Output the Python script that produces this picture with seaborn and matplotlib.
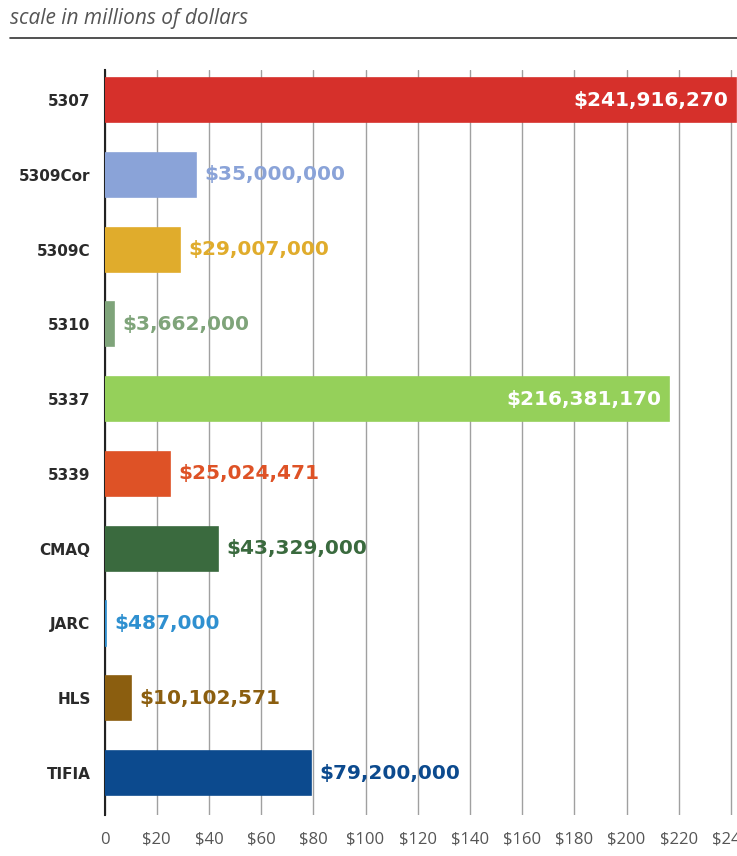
import pandas as pd
import seaborn as sns
import matplotlib.pyplot as plt
from matplotlib.lines import Line2D

# program names and funding amounts (dollars)
programs = ['5307', '5309Cor', '5309C', '5310', '5337', '5339', 'CMAQ', 'JARC', 'HLS', 'TIFIA']
amounts = [241916270, 35000000, 29007000, 3662000, 216381170, 25024471, 43329000, 487000, 10102571, 79200000]
colors = ['#d6302b', '#8aa3d8', '#e0ac2c', '#7fa47a', '#95d05a',
          '#de5226', '#3a6a3e', '#2f90d0', '#8b5e0f', '#0c4a8e']
inside_label = ['5307', '5337']  # labels drawn in white inside the bar
tick_values = list(range(0, 260, 20))
tick_labels = ['0'] + [f'${v}' for v in tick_values[1:]]

df = pd.DataFrame({'program': programs, 'millions': [a / 1e6 for a in amounts]})

sns.set_style('white')
plt.rcParams['font.family'] = ['Open Sans', 'DejaVu Sans']

fig = plt.figure(figsize=(7.37, 8.56), dpi=100)
ax = fig.add_axes([0.1418, 0.048, 0.8582, 0.870])

sns.barplot(data=df, y='program', x='millions', hue='program', palette=colors,
            orient='h', legend=False, width=0.59, saturation=1, ax=ax, zorder=3)

# the tiny JARC bar gets a thin outline so it stays visible next to the axis
for patch, c in zip(ax.patches, colors):
    patch.set_edgecolor(c)
    patch.set_linewidth(1.2)

ax.set_xlim(0, 242.3)
ax.set_ylim(9.56, -0.4)
ax.set_xticks(tick_values)
ax.set_xticklabels(tick_labels, fontsize=12, color='#555555')
ax.grid(axis='x', color='#a0a0a0', linewidth=1.0, zorder=0)
ax.grid(axis='y', visible=False)
ax.tick_params(axis='x', length=0, pad=12)
ax.tick_params(axis='y', length=0, pad=10)
for lbl in ax.get_yticklabels():
    lbl.set_fontfamily('DejaVu Sans')
    lbl.set_fontweight('bold')
    lbl.set_fontsize(11)
    lbl.set_color('#2a2a2a')
ax.set_xlabel('')
ax.set_ylabel('')
for s in ['top', 'right', 'bottom']:
    ax.spines[s].set_visible(False)
ax.spines['left'].set_color('#222222')
ax.spines['left'].set_linewidth(1.5)
ax.spines['left'].set_zorder(2)

for i, (p, a, c) in enumerate(zip(programs, amounts, colors)):
    v = a / 1e6
    txt = f'${a:,}'
    if p in inside_label:
        ax.text(v - 3, i, txt, color='white', fontsize=14.5, fontweight='bold',
                family='DejaVu Sans', ha='right', va='center', zorder=5)
    else:
        ax.text(v + 3.2, i, txt, color=c, fontsize=14.5, fontweight='bold',
                family='DejaVu Sans', ha='left', va='center', zorder=5)

# header
fig.text(0.014, 0.978, 'scale in millions of dollars', fontsize=15, style='italic',
         color='#555555', va='center', ha='left')
fig.add_artist(Line2D([0.014, 1.0], [0.956, 0.956], color='#333333', linewidth=1.2,
                      transform=fig.transFigure))

fig.savefig('out.png', dpi=100, facecolor='white')
